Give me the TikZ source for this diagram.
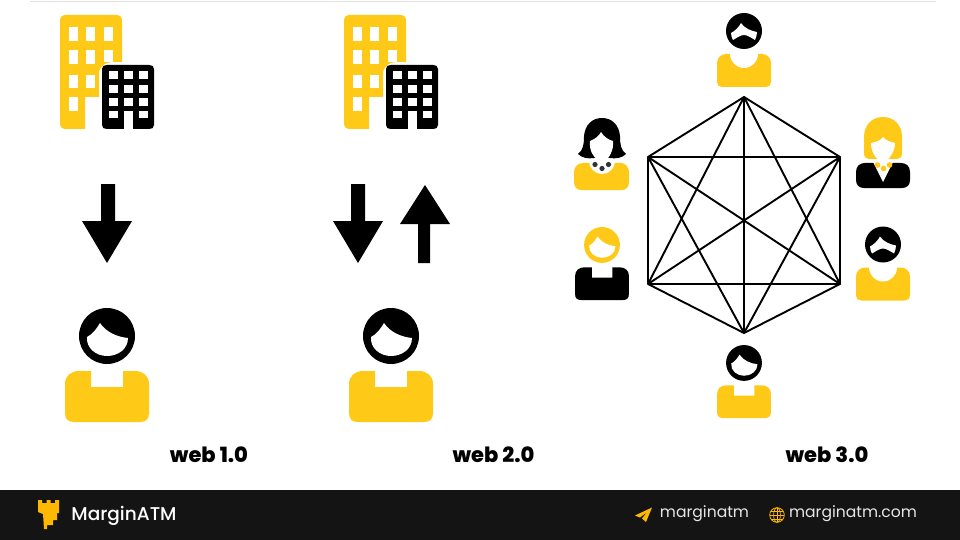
\documentclass[tikz,border=0pt]{standalone}
\usepackage{fontspec}
\setmainfont{Poppins}
\newfontfamily\labelfont{Poppins ExtraBold}
\newfontfamily\brandfont{Poppins Medium}
\definecolor{ylw}{HTML}{FFC917}
\definecolor{blk}{HTML}{000000}
\definecolor{barc}{HTML}{141414}
\definecolor{logoc}{HTML}{FFB800}
\definecolor{pearl}{HTML}{333333}
\definecolor{foot}{HTML}{E6E6E6}
\tikzset{
  webtext/.style={font=\labelfont\fontsize{21}{24}\selectfont,text=black,inner sep=0pt,anchor=center},
  foottext/.style={font=\fontsize{15.6}{18}\selectfont,text=foot,inner sep=0pt,anchor=center},
  brandtext/.style={font=\brandfont\fontsize{18.5}{22}\selectfont,text=white,inner sep=0pt,anchor=center},
  hexline/.style={draw=black,line width=1.9pt,line join=round},
  pics/plainperson/.style 2 args={code={
    \fill[#2] (-42,-38) .. controls (-42,-46) and (-36,-51) .. (-28,-51) -- (-16,-51) -- (-16,-35) -- (16,-35) -- (16,-51) -- (28,-51) .. controls (36,-51) and (42,-46) .. (42,-38) -- (42,-9) .. controls (42,-3) and (39,0) .. (33,0) -- (-33,0) .. controls (-39,0) and (-42,-3) .. (-42,-9) -- cycle;
    \fill[#1] (0,-86) circle[radius=28];
    \fill[white] (-20,-85) .. controls (-14,-88) and (-10,-94) .. (-7,-99) .. controls (-1,-90) and (10,-85) .. (21,-84) .. controls (21,-73) and (11,-66) .. (0,-66) .. controls (-11,-66) and (-21,-74) .. (-20,-85) -- cycle;
  }},
  pics/beardperson/.style={code={
    \fill[ylw] (-27,-24) .. controls (-27,-29) and (-23,-33) .. (-18,-33) -- (18,-33) .. controls (23,-33) and (27,-29) .. (27,-24) -- (27,-5) .. controls (27,-2) and (25,0) .. (22,0) -- (-22,0) .. controls (-25,0) and (-27,-2) .. (-27,-5) -- cycle;
    \fill[white] (0,-33) circle[radius=14];
    \fill[black] (0,-56) circle[radius=18];
    \fill[white] (-13,-54) .. controls (-9,-56) and (-5,-60) .. (-3,-64) .. controls (0,-59) and (7,-56) .. (13,-55) .. controls (13,-52) and (12,-49) .. (11,-47) .. controls (6,-50) and (3,-52) .. (0,-52) .. controls (-3,-52) and (-6,-50) .. (-11,-47) .. controls (-12,-49) and (-13,-51) .. (-13,-54) -- cycle;
  }},
  pics/buildings/.style={code={
    % yellow tower
    \fill[ylw] (0,6) .. controls (0,2) and (2,0) .. (6,0) -- (56,0) .. controls (60,0) and (62,2) .. (62,6) -- (62,47) -- (53,47) .. controls (46,47) and (41,50) .. (39,57) -- (39,82) -- (25,82) -- (25,114) -- (6,114) .. controls (2,114) and (0,112) .. (0,108) -- cycle;
    \foreach \wx/\wy/\wh in {9/12/14,26/12/14,44/12/14,9/35/14,26/35/14,44/35/12,9/60/13,26/60/13,9/82/14}
      \fill[white] (\wx,\wy) rectangle ++(9,\wh);
    % black block
    \fill[black] (42,54) .. controls (42,51) and (44,50) .. (47,50) -- (89,50) .. controls (92,50) and (94,51) .. (94,54) -- (94,110) .. controls (94,113) and (92,114) .. (89,114) -- (47,114) .. controls (44,114) and (42,113) .. (42,110) -- cycle;
    \foreach \wx in {49,64,79}\foreach \wy in {56,70,83}
      \fill[white] (\wx,\wy) rectangle ++(8.5,8);
    \foreach \wx in {49,79}
      \fill[white] (\wx,96) rectangle ++(8.5,7.5);
    \fill[white] (64,96) rectangle (72.5,114);
  }}
}
\begin{document}
\begin{tikzpicture}[x=1pt,y=-1pt]
\useasboundingbox (0,0) rectangle (960,540);
\fill[white] (0,0) rectangle (960,540);
\draw[draw=black!12,line width=1pt] (30,2) -- (936,2);

% buildings
\pic at (60,15) {buildings};
\pic at (344,15) {buildings};

% arrows
\fill[black] (101,184) -- (115,184) -- (115,221) -- (132,221) -- (107,263) -- (82,221) -- (101,221) -- cycle;
\fill[black] (351,184) -- (365,184) -- (365,221) -- (383,221) -- (358,263) -- (333,221) -- (351,221) -- cycle;
\fill[black] (418,263) -- (430,263) -- (430,224) -- (450,224) -- (425,185) -- (400,224) -- (418,224) -- cycle;

% large people
\pic at (107,422) {plainperson={black}{ylw}};
\pic at (391,422) {plainperson={black}{ylw}};

% small people
\pic at (744,87) {beardperson};
\pic at (883,300.5) {beardperson};
\pic[scale=.64] at (744,418) {plainperson={black}{ylw}};
\pic[scale=.64] at (602,300) {plainperson={ylw}{black}};

% woman, left
\fill[ylw] (574,172) .. controls (574,167) and (578,163) .. (583,163) -- (621,163) .. controls (625,163) and (629,167) .. (629,172) -- (629,182) .. controls (629,187) and (626,190) .. (622,190) -- (581,190) .. controls (577,190) and (574,187) .. (574,182) -- cycle;
\fill[white] (602,161) circle[radius=13];
\fill[black] (584,136) .. controls (585,125) and (592,118) .. (602,118) .. controls (612,118) and (619,125) .. (620,136) .. controls (620,145) and (621,150) .. (626,154) .. controls (622,158) and (616,159) .. (610,158) -- (594,158) .. controls (588,159) and (582,158) .. (578,154) .. controls (583,150) and (584,145) .. (584,136) -- cycle;
\fill[white] (590,141) .. controls (595,139) and (599,136) .. (601,132) .. controls (604,137) and (609,140) .. (613,141) .. controls (614,150) and (609,158) .. (606,160) -- (606,165) -- (598,165) -- (598,160) .. controls (593,157) and (589,150) .. (590,141) -- cycle;
\fill[pearl] (595,164.5) circle[radius=2.6];
\fill[pearl] (602,168.5) circle[radius=2.6];
\fill[pearl] (608.5,164.5) circle[radius=2.6];

% woman, right
\fill[black] (856,172) .. controls (856,166) and (860,163) .. (865,163) -- (901,163) .. controls (906,163) and (910,166) .. (910,172) -- (910,180) .. controls (910,185) and (907,188) .. (902,188) -- (864,188) .. controls (859,188) and (856,185) .. (856,180) -- cycle;
\fill[white] (873,162) -- (883,182) -- (893,162) -- cycle;
\fill[ylw] (864,137) .. controls (864,125) and (872,117) .. (883,117) .. controls (894,117) and (902,125) .. (902,137) -- (902,153) .. controls (902,157) and (900,159) .. (897,159) -- (869,159) .. controls (866,159) and (864,157) .. (864,153) -- cycle;
\fill[white] (871,143) .. controls (876,142) and (880,141) .. (883,137) .. controls (886,141) and (891,142) .. (895,143) .. controls (895,151) and (890,158) .. (887,160) -- (887,166) -- (879,166) -- (879,160) .. controls (875,158) and (871,151) .. (871,143) -- cycle;
\fill[ylw] (877.5,165) circle[radius=2.8];
\fill[ylw] (883.5,168.5) circle[radius=2.8];
\fill[ylw] (889.5,165) circle[radius=2.8];

% hexagon mesh
\coordinate (h1) at (744,97);
\coordinate (h2) at (840,157);
\coordinate (h3) at (840,284);
\coordinate (h4) at (744,333);
\coordinate (h5) at (648,284);
\coordinate (h6) at (648,157);
\draw[hexline] (h1) -- (h2) -- (h3) -- (h4) -- (h5) -- (h6) -- cycle;
\draw[hexline] (h1) -- (h3) (h1) -- (h4) (h1) -- (h5);
\draw[hexline] (h2) -- (h4) (h2) -- (h5) (h2) -- (h6);
\draw[hexline] (h3) -- (h5) (h3) -- (h6);
\draw[hexline] (h4) -- (h6);

% labels
\node[webtext] (w1) at (209,455) {web 1.0};
\node[webtext] (w2) at (493.5,455) {web 2.0};
\node[webtext] (w3) at (827,455) {web 3.0};

% footer
\fill[barc] (0,490) rectangle (960,540);
\fill[logoc] (38,500) -- (42,500) -- (42,503) -- (46.5,503) -- (46.5,500) -- (50.5,500) -- (50.5,503) -- (55,503) -- (55,500) -- (59,500) -- (59,513) -- (57,513) -- (57,520) -- (53,520) -- (53,525) -- (47,525) -- (47,529) -- (44,529) -- (43,514) -- (38,512) -- cycle;
\node[brandtext] (brand) at (124,516) {MarginATM};
\fill[logoc] (652,507.5) -- (635,515.5) -- (640,517.5) -- (647,512) -- (642,518.5) -- (646,522) -- cycle;
\node[foottext] (t1) at (704.5,514) {marginatm};
\draw[logoc,line width=.8pt] (777,515) circle[radius=7.3];
\draw[logoc,line width=.7pt] (777,515) ellipse[x radius=3.4,y radius=7.3];
\draw[logoc,line width=.7pt] (777,507.7) -- (777,522.3) (769.7,515) -- (784.3,515) (771,511) -- (783,511) (771,519) -- (783,519);
\node[foottext] (t2) at (853,514) {marginatm.com};
\end{tikzpicture}
\end{document}
